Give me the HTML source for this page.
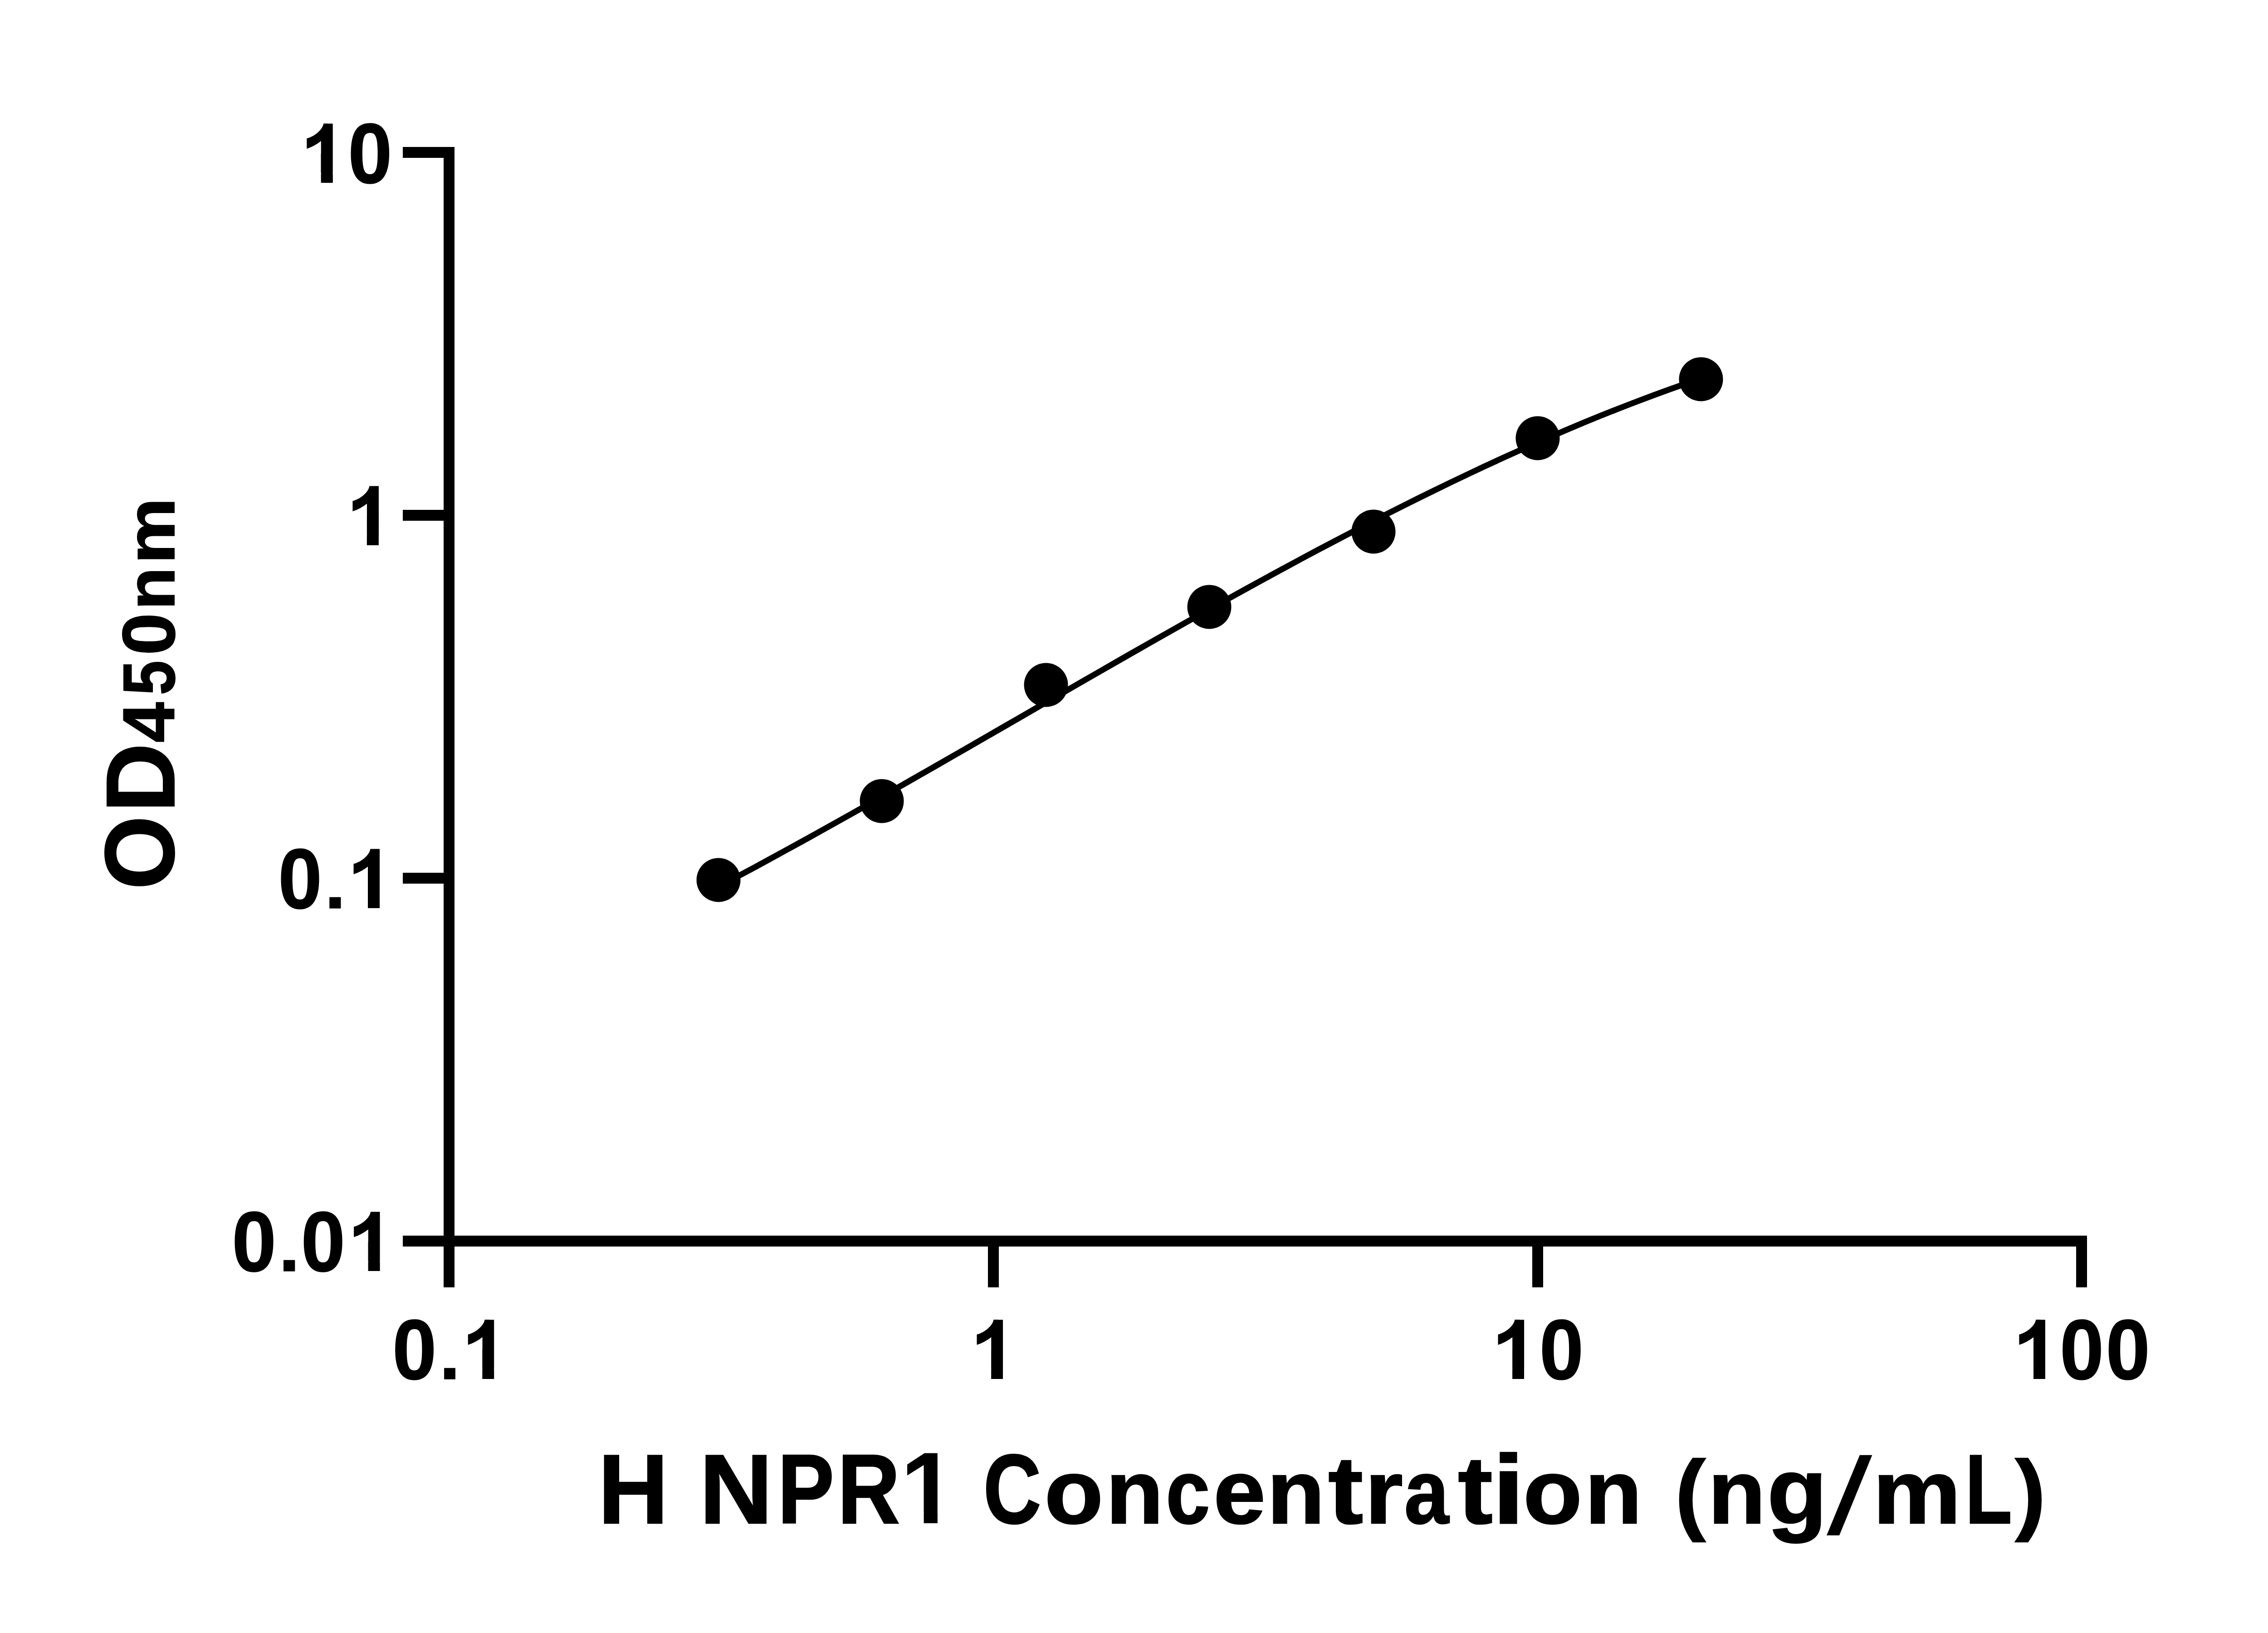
<!DOCTYPE html>
<html><head><meta charset="utf-8"><title>H NPR1 standard curve</title>
<style>
html,body{margin:0;padding:0;background:#fff;}
body{width:5142px;height:3600px;overflow:hidden;}
svg{display:block;}
text{font-family:"Liberation Sans",sans-serif;font-weight:bold;fill:#000;font-kerning:none;letter-spacing:0;}
</style></head>
<body>
<svg width="5142" height="3600" viewBox="0 0 5142 3600">
<rect x="0" y="0" width="5142" height="3600" fill="#fff"/>
<g id="axes" fill="#000">
<rect x="978" y="324" width="24" height="2514"/>
<rect x="978" y="2724" width="3623" height="24"/>
<rect x="888" y="324" width="100" height="24"/>
<rect x="888" y="1124" width="100" height="24"/>
<rect x="888" y="1924" width="100" height="24"/>
<rect x="888" y="2724" width="100" height="24"/>
<rect x="2178" y="2736" width="24" height="102"/>
<rect x="3378" y="2736" width="24" height="102"/>
<rect x="4577" y="2736" width="24" height="102"/>
</g>
<g id="labels">
<text id="yl10" transform="translate(0,402.7) scale(1,1.036)" y="0" stroke="#000" stroke-width="1.5" stroke-linejoin="miter"><tspan x="662.8" font-size="183.0" textLength="106.5" lengthAdjust="spacingAndGlyphs" stroke="none">1</tspan><tspan x="767.3" font-size="181.0" textLength="97.3" lengthAdjust="spacingAndGlyphs">0</tspan></text>
<text id="yl1" transform="translate(0,1202.1) scale(1,1.036)" y="0" stroke="#000" stroke-width="1.5" stroke-linejoin="miter"><tspan x="764.4" font-size="183.0" textLength="105.8" lengthAdjust="spacingAndGlyphs" stroke="none">1</tspan></text>
<text id="yl01" transform="translate(0,2002.0) scale(1,1.036)" y="0" stroke="#000" stroke-width="1.5" stroke-linejoin="miter"><tspan x="613.2" font-size="181.0" textLength="96.7" lengthAdjust="spacingAndGlyphs">0</tspan><tspan x="715.8" font-size="152.3" textLength="46.3" lengthAdjust="spacingAndGlyphs">.</tspan><tspan x="766.7" font-size="183.0" textLength="105.4" lengthAdjust="spacingAndGlyphs" stroke="none">1</tspan></text>
<text id="yl001" transform="translate(0,2802.0) scale(1,1.036)" y="0" stroke="#000" stroke-width="1.5" stroke-linejoin="miter"><tspan x="511.3" font-size="181.0" textLength="97.8" lengthAdjust="spacingAndGlyphs">0</tspan><tspan x="614.4" font-size="152.3" textLength="46.5" lengthAdjust="spacingAndGlyphs">.</tspan><tspan x="663.5" font-size="181.0" textLength="97.6" lengthAdjust="spacingAndGlyphs">0</tspan><tspan x="767.3" font-size="183.0" textLength="105.4" lengthAdjust="spacingAndGlyphs" stroke="none">1</tspan></text>
<text id="xl01" transform="translate(0,3039.5) scale(1,1.036)" y="0" stroke="#000" stroke-width="1.5" stroke-linejoin="miter"><tspan x="864.9" font-size="181.0" textLength="97.4" lengthAdjust="spacingAndGlyphs">0</tspan><tspan x="968.7" font-size="152.3" textLength="45.7" lengthAdjust="spacingAndGlyphs">.</tspan><tspan x="1019.3" font-size="183.0" textLength="104.9" lengthAdjust="spacingAndGlyphs" stroke="none">1</tspan></text>
<text id="xl1" transform="translate(0,3039.5) scale(1,1.036)" y="0" stroke="#000" stroke-width="1.5" stroke-linejoin="miter"><tspan x="2141.0" font-size="183.0" textLength="105.1" lengthAdjust="spacingAndGlyphs" stroke="none">1</tspan></text>
<text id="xl10" transform="translate(0,3039.5) scale(1,1.036)" y="0" stroke="#000" stroke-width="1.5" stroke-linejoin="miter"><tspan x="3290.0" font-size="183.0" textLength="105.1" lengthAdjust="spacingAndGlyphs" stroke="none">1</tspan><tspan x="3393.8" font-size="181.0" textLength="97.4" lengthAdjust="spacingAndGlyphs">0</tspan></text>
<text id="xl100" transform="translate(0,3039.5) scale(1,1.036)" y="0" stroke="#000" stroke-width="1.5" stroke-linejoin="miter"><tspan x="4439.0" font-size="183.0" textLength="104.9" lengthAdjust="spacingAndGlyphs" stroke="none">1</tspan><tspan x="4541.0" font-size="181.0" textLength="97.1" lengthAdjust="spacingAndGlyphs">0</tspan><tspan x="4642.6" font-size="181.0" textLength="97.4" lengthAdjust="spacingAndGlyphs">0</tspan></text>
<text id="ytitle" transform="translate(383.50,1954) rotate(-90)" y="0" stroke="#000" stroke-width="2.0" stroke-linejoin="miter"><tspan x="-7.6" font-size="217.2" textLength="163.4" lengthAdjust="spacingAndGlyphs" y="-1">O</tspan><tspan x="162.8" font-size="216.1" textLength="153.1" lengthAdjust="spacingAndGlyphs" y="0">D</tspan><tspan x="317.0" font-size="161.6" textLength="89.2" lengthAdjust="spacingAndGlyphs">4</tspan><tspan x="421.4" font-size="161.9" textLength="76.5" lengthAdjust="spacingAndGlyphs">5</tspan><tspan x="509.5" font-size="163.7" textLength="93.3" lengthAdjust="spacingAndGlyphs">0</tspan><tspan x="609.6" font-size="150.3" textLength="94.1" lengthAdjust="spacingAndGlyphs">n</tspan><tspan x="710.9" font-size="150.3" textLength="145.7" lengthAdjust="spacingAndGlyphs">m</tspan></text>
<text id="xtitle" transform="translate(0,3358.25)" y="0" stroke="#000" stroke-width="2.5" stroke-linejoin="miter"><tspan x="1318.6" font-size="216.4" textLength="155.1" lengthAdjust="spacingAndGlyphs">H</tspan><tspan x="1541.8" font-size="216.4" textLength="162.0" lengthAdjust="spacingAndGlyphs">N</tspan><tspan x="1714.2" font-size="216.4" textLength="124.8" lengthAdjust="spacingAndGlyphs">P</tspan><tspan x="1846.2" font-size="216.4" textLength="138.0" lengthAdjust="spacingAndGlyphs">R</tspan><tspan x="1985.1" font-size="224.0" textLength="122.7" lengthAdjust="spacingAndGlyphs" stroke="none">1</tspan><tspan x="2167.7" font-size="216.5" textLength="127.7" lengthAdjust="spacingAndGlyphs">C</tspan><tspan x="2302.5" font-size="201.4" textLength="129.8" lengthAdjust="spacingAndGlyphs">o</tspan><tspan x="2437.9" font-size="199.4" textLength="126.9" lengthAdjust="spacingAndGlyphs">n</tspan><tspan x="2570.2" font-size="201.4" textLength="97.3" lengthAdjust="spacingAndGlyphs">c</tspan><tspan x="2675.2" font-size="201.4" textLength="114.7" lengthAdjust="spacingAndGlyphs">e</tspan><tspan x="2793.2" font-size="199.4" textLength="127.4" lengthAdjust="spacingAndGlyphs">n</tspan><tspan x="2928.1" font-size="212.2" textLength="77.3" lengthAdjust="spacingAndGlyphs">t</tspan><tspan x="3009.0" font-size="199.4" textLength="83.9" lengthAdjust="spacingAndGlyphs">r</tspan><tspan x="3095.8" font-size="201.4" textLength="98.4" lengthAdjust="spacingAndGlyphs">a</tspan><tspan x="3214.1" font-size="212.2" textLength="76.9" lengthAdjust="spacingAndGlyphs">t</tspan><tspan x="3289.9" font-size="215.5" textLength="71.3" lengthAdjust="spacingAndGlyphs">i</tspan><tspan x="3358.1" font-size="201.4" textLength="130.1" lengthAdjust="spacingAndGlyphs">o</tspan><tspan x="3494.0" font-size="199.4" textLength="126.0" lengthAdjust="spacingAndGlyphs">n</tspan><tspan x="3693.1" font-size="197.3" textLength="66.9" lengthAdjust="spacingAndGlyphs">(</tspan><tspan x="3765.5" font-size="199.4" textLength="126.9" lengthAdjust="spacingAndGlyphs">n</tspan><tspan x="3895.7" font-size="206.7" textLength="132.4" lengthAdjust="spacingAndGlyphs">g</tspan><tspan x="4128.8" font-size="199.4" textLength="194.5" lengthAdjust="spacingAndGlyphs">m</tspan><tspan x="4332.2" font-size="216.4" textLength="103.7" lengthAdjust="spacingAndGlyphs">L</tspan><tspan x="4442.7" font-size="197.3" textLength="67.0" lengthAdjust="spacingAndGlyphs">)</tspan></text>
<text id="xtitle-slash" transform="matrix(1.07265 0 -0.24093 1.08046 4025.76 3380.24)" x="0" y="0" font-size="220">/</text>
</g>
<g id="serif-covers" fill="#fff">
<rect x="672.1" y="380.4" width="35.5" height="24.3"/>
<rect x="733.8" y="380.4" width="33.0" height="24.3"/>
<rect x="671.3" y="268.7" width="36.2" height="70.0"/>
<path d="M671.3 268.7 L713.2 268.7 L713.2 272.7 C712.3 285.7 690.3 302.7 676.3 305.0 Z"/>
<rect x="773.6" y="1179.8" width="35.2" height="24.3"/>
<rect x="834.9" y="1179.8" width="32.8" height="24.3"/>
<rect x="772.4" y="1068.1" width="36.4" height="70.0"/>
<path d="M772.4 1068.1 L814.3 1068.1 L814.3 1072.1 C813.4 1085.1 791.4 1102.1 777.4 1104.4 Z"/>
<rect x="775.9" y="1979.7" width="35.1" height="24.3"/>
<rect x="837.0" y="1979.7" width="32.7" height="24.3"/>
<rect x="774.5" y="1868.0" width="36.5" height="70.0"/>
<path d="M774.5 1868.0 L816.4 1868.0 L816.4 1872.0 C815.5 1885.0 793.5 1902.0 779.5 1904.3 Z"/>
<rect x="776.5" y="2779.7" width="35.1" height="24.3"/>
<rect x="837.6" y="2779.7" width="32.7" height="24.3"/>
<rect x="775.1" y="2668.0" width="36.5" height="70.0"/>
<path d="M775.1 2668.0 L817.0 2668.0 L817.0 2672.0 C816.1 2685.0 794.1 2702.0 780.1 2704.3 Z"/>
<rect x="1028.4" y="3017.2" width="34.9" height="24.3"/>
<rect x="1089.2" y="3017.2" width="32.5" height="24.3"/>
<rect x="1026.7" y="2905.5" width="36.6" height="70.0"/>
<path d="M1026.7 2905.5 L1068.6 2905.5 L1068.6 2909.5 C1067.7 2922.5 1045.7 2939.5 1031.7 2941.8 Z"/>
<rect x="2150.1" y="3017.2" width="35.0" height="24.3"/>
<rect x="2211.0" y="3017.2" width="32.6" height="24.3"/>
<rect x="2148.5" y="2905.5" width="36.6" height="70.0"/>
<path d="M2148.5 2905.5 L2190.4 2905.5 L2190.4 2909.5 C2189.5 2922.5 2167.5 2939.5 2153.5 2941.8 Z"/>
<rect x="3299.1" y="3017.2" width="35.0" height="24.3"/>
<rect x="3360.0" y="3017.2" width="32.6" height="24.3"/>
<rect x="3297.5" y="2905.5" width="36.6" height="70.0"/>
<path d="M3297.5 2905.5 L3339.4 2905.5 L3339.4 2909.5 C3338.5 2922.5 3316.5 2939.5 3302.5 2941.8 Z"/>
<rect x="4448.1" y="3017.2" width="34.9" height="24.3"/>
<rect x="4508.9" y="3017.2" width="32.5" height="24.3"/>
<rect x="4446.4" y="2905.5" width="36.6" height="70.0"/>
<path d="M4446.4 2905.5 L4488.3 2905.5 L4488.3 2909.5 C4487.4 2922.5 4465.4 2939.5 4451.4 2941.8 Z"/>
<rect x="1995.8" y="3333.6" width="40.8" height="27.9"/>
<rect x="2066.9" y="3333.6" width="38.0" height="27.9"/>
</g>
<g id="one-flags" fill="#000">
<path d="M713.2 272.7 C712.3 285.7 690.3 302.7 676.3 305.0 L676.3 327.9 Q693.3 322.7 709.5 309.6 L723.8 309.6 L723.8 272.7 Z"/>
<path d="M814.3 1072.1 C813.4 1085.1 791.4 1102.1 777.4 1104.4 L777.4 1127.3 Q794.4 1122.1 810.8 1109.0 L824.9 1109.0 L824.9 1072.1 Z"/>
<path d="M816.4 1872.0 C815.5 1885.0 793.5 1902.0 779.5 1904.3 L779.5 1927.2 Q796.5 1922.0 813.0 1908.9 L827.0 1908.9 L827.0 1872.0 Z"/>
<path d="M817.0 2672.0 C816.1 2685.0 794.1 2702.0 780.1 2704.3 L780.1 2727.2 Q797.1 2722.0 813.6 2708.9 L827.6 2708.9 L827.6 2672.0 Z"/>
<path d="M1068.6 2909.5 C1067.7 2922.5 1045.7 2939.5 1031.7 2941.8 L1031.7 2964.7 Q1048.7 2959.5 1065.3 2946.4 L1079.2 2946.4 L1079.2 2909.5 Z"/>
<path d="M2190.4 2909.5 C2189.5 2922.5 2167.5 2939.5 2153.5 2941.8 L2153.5 2964.7 Q2170.5 2959.5 2187.1 2946.4 L2201.0 2946.4 L2201.0 2909.5 Z"/>
<path d="M3339.4 2909.5 C3338.5 2922.5 3316.5 2939.5 3302.5 2941.8 L3302.5 2964.7 Q3319.5 2959.5 3336.1 2946.4 L3350.0 2946.4 L3350.0 2909.5 Z"/>
<path d="M4488.3 2909.5 C4487.4 2922.5 4465.4 2939.5 4451.4 2941.8 L4451.4 2964.7 Q4468.4 2959.5 4485.0 2946.4 L4498.9 2946.4 L4498.9 2909.5 Z"/>
</g>
<path id="fit" d="M1584.0 1954.6 L1620.7 1935.1 L1657.4 1915.4 L1694.1 1895.5 L1730.8 1875.4 L1767.6 1855.2 L1804.3 1834.9 L1841.0 1814.4 L1877.7 1793.8 L1914.4 1773.1 L1951.1 1752.3 L1987.8 1731.5 L2024.5 1710.5 L2061.3 1689.5 L2098.0 1668.4 L2134.7 1647.3 L2171.4 1626.2 L2208.1 1605.0 L2244.8 1583.8 L2281.5 1562.6 L2318.2 1541.4 L2354.9 1520.3 L2391.7 1499.2 L2428.4 1478.1 L2465.1 1457.0 L2501.8 1436.0 L2538.5 1415.1 L2575.2 1394.3 L2611.9 1373.6 L2648.6 1353.0 L2685.4 1332.4 L2722.1 1312.0 L2758.8 1291.8 L2795.5 1271.7 L2832.2 1251.7 L2868.9 1231.9 L2905.6 1212.3 L2942.3 1192.9 L2979.1 1173.7 L3015.8 1154.6 L3052.5 1135.8 L3089.2 1117.3 L3125.9 1098.9 L3162.6 1080.9 L3199.3 1063.0 L3236.0 1045.5 L3272.7 1028.2 L3309.5 1011.2 L3346.2 994.6 L3382.9 978.2 L3419.6 962.2 L3456.3 946.5 L3493.0 931.1 L3529.7 916.1 L3566.4 901.5 L3603.2 887.2 L3639.9 873.4 L3676.6 859.9 L3713.3 846.8 L3750.0 834.2" fill="none" stroke="#000" stroke-width="13" stroke-linejoin="round" stroke-linecap="round"/>
<g id="points" fill="#000">
<circle cx="1584" cy="1940" r="48.5"/>
<circle cx="1944" cy="1766" r="48.5"/>
<circle cx="2306" cy="1510" r="48.5"/>
<circle cx="2666" cy="1338" r="48.5"/>
<circle cx="3028" cy="1172" r="48.5"/>
<circle cx="3390" cy="966" r="48.5"/>
<circle cx="3750" cy="836" r="48.5"/>
</g>
</svg>
</body></html>
